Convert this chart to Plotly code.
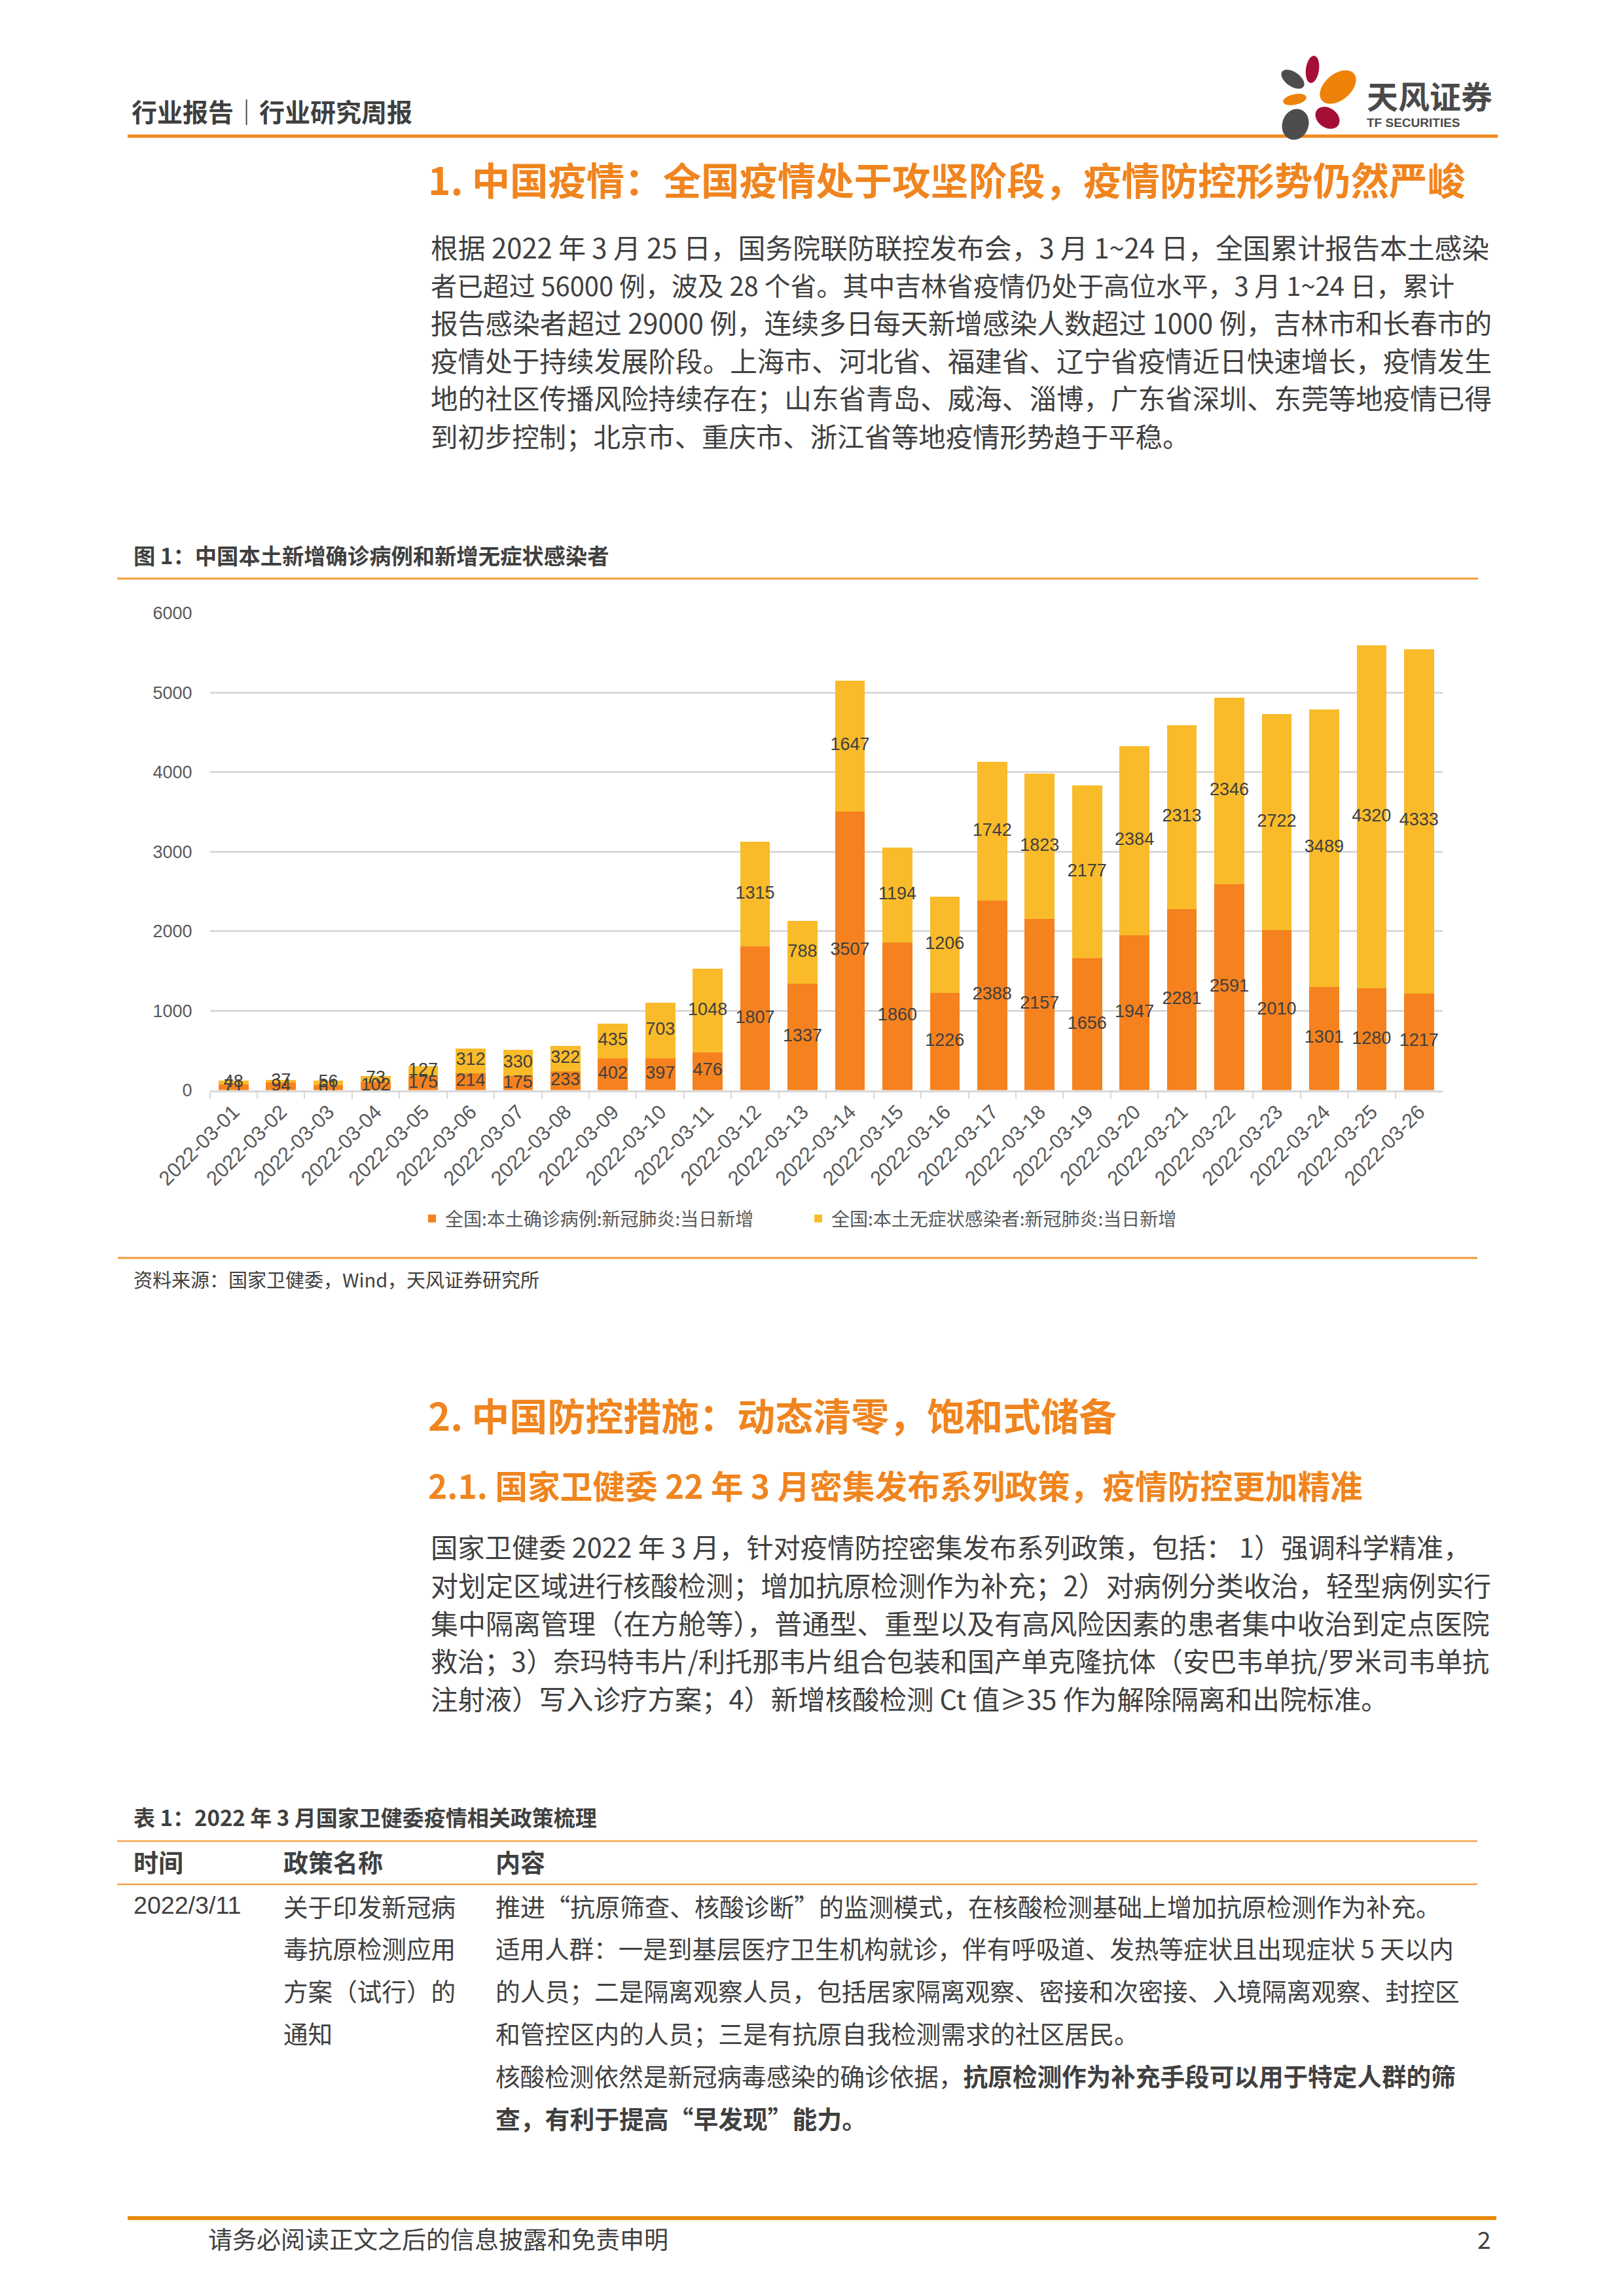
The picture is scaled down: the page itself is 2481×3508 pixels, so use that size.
import math
import plotly.graph_objects as go

# ---------------- data ----------------
dates = ["2022-03-%02d" % d for d in range(1, 27)]
confirmed = [71, 94, 61, 102, 175, 214, 175, 233, 402, 397, 476, 1807, 1337,
             3507, 1860, 1226, 2388, 2157, 1656, 1947, 2281, 2591, 2010, 1301, 1280, 1217]
asymptomatic = [48, 37, 56, 73, 127, 312, 330, 322, 435, 703, 1048, 1315, 788,
                1647, 1194, 1206, 1742, 1823, 2177, 2384, 2313, 2346, 2722, 3489, 4320, 4333]
series_names = ["全国:本土确诊病例:新冠肺炎:当日新增", "全国:本土无症状感染者:新冠肺炎:当日新增"]
y_ticks = [0, 1000, 2000, 3000, 4000, 5000, 6000]

header_text = "行业报告｜行业研究周报"
heading1 = "1. 中国疫情：全国疫情处于攻坚阶段，疫情防控形势仍然严峻"
para1 = [
    "根据 2022 年 3 月 25 日，国务院联防联控发布会，3 月 1~24 日，全国累计报告本土感染",
    "者已超过 56000 例，波及 28 个省。其中吉林省疫情仍处于高位水平，3 月 1~24 日，累计",
    "报告感染者超过 29000 例，连续多日每天新增感染人数超过 1000 例，吉林市和长春市的",
    "疫情处于持续发展阶段。上海市、河北省、福建省、辽宁省疫情近日快速增长，疫情发生",
    "地的社区传播风险持续存在；山东省青岛、威海、淄博，广东省深圳、东莞等地疫情已得",
    "到初步控制；北京市、重庆市、浙江省等地疫情形势趋于平稳。",
]
para1_fit = [1.020, 0.973, 1.017, 1.014, 1.014, 1.010]
chart_title = "图 1：中国本土新增确诊病例和新增无症状感染者"
source_text = "资料来源：国家卫健委，Wind，天风证券研究所"
heading2 = "2. 中国防控措施：动态清零，饱和式储备"
heading21 = "2.1. 国家卫健委 22 年 3 月密集发布系列政策，疫情防控更加精准"
para2 = [
    "国家卫健委 2022 年 3 月，针对疫情防控密集发布系列政策，包括： 1）强调科学精准，",
    "对划定区域进行核酸检测；增加抗原检测作为补充；2）对病例分类收治，轻型病例实行",
    "集中隔离管理（在方舱等），普通型、重型以及有高风险因素的患者集中收治到定点医院",
    "救治；3）奈玛特韦片/利托那韦片组合包装和国产单克隆抗体（安巴韦单抗/罗米司韦单抗",
    "注射液）写入诊疗方案；4）新增核酸检测 Ct 值≥35 作为解除隔离和出院标准。",
]
para2_fit = [1.008, 1.025, 1.025, 1.003, 1.010]
table_title = "表 1：2022 年 3 月国家卫健委疫情相关政策梳理"
table_header = ["时间", "政策名称", "内容"]
table_time = ["2022/3/11"]
table_policy = ["关于印发新冠病", "毒抗原检测应用", "方案（试行）的", "通知"]
table_content = [
    "推进“抗原筛查、核酸诊断”的监测模式，在核酸检测基础上增加抗原检测作为补充。",
    "适用人群：一是到基层医疗卫生机构就诊，伴有呼吸道、发热等症状且出现症状 5 天以内",
    "的人员；二是隔离观察人员，包括居家隔离观察、密接和次密接、入境隔离观察、封控区",
    "和管控区内的人员；三是有抗原自我检测需求的社区居民。",
    "核酸检测依然是新冠病毒感染的确诊依据，<b>抗原检测作为补充手段可以用于特定人群的筛</b>",
    "<b>查，有利于提高“早发现”能力。</b>",
]
table_fit = [1.0, 0.988, 0.994, 0.995, 0.99, 0.995]
footer_text = "请务必阅读正文之后的信息披露和免责申明"
page_no = "2"

# ---------------- layout helpers ----------------
W, H = 2481, 3508
OFF = 8  # page body margin of the browser
def xp(px):
    return (px - OFF) / W
def yp(py):
    return 1 - (py - OFF) / H

CJK = "Noto Sans CJK SC"
LAT = "Liberation Sans, Noto Sans CJK SC"
TXT = "#404040"
ORANGE = "#F0841E"
C_CONF = "#F5821F"
C_ASYM = "#F9BB2A"

fig = go.Figure()

fig.add_bar(x=dates, y=confirmed, name=series_names[0], marker_color=C_CONF,
            marker_line_width=0, hoverinfo="skip")
fig.add_bar(x=dates, y=asymptomatic, name=series_names[1], marker_color=C_ASYM,
            marker_line_width=0, hoverinfo="skip")

# data labels, centred in each stacked segment, drawn above all bars
conf_mid = [c / 2 for c in confirmed]
asym_mid = [c + a / 2 for c, a in zip(confirmed, asymptomatic)]
for mids, vals in ((conf_mid, confirmed), (asym_mid, asymptomatic)):
    fig.add_scatter(x=dates, y=mids, mode="text", text=[str(v) for v in vals],
                    textposition="middle center", showlegend=False, hoverinfo="skip",
                    cliponaxis=False,
                    textfont=dict(size=27, color=TXT, family=LAT))

annotations = []
DY = -3
def add_text(x, y, text, size, color=TXT, family=CJK, xanchor="left", bold=False):
    if bold:
        text = "<b>" + text + "</b>"
    annotations.append(dict(x=xp(x), y=yp(y + DY), xref="paper", yref="paper",
                            xanchor=xanchor, yanchor="middle", showarrow=False,
                            text=text, font=dict(size=size, color=color, family=family)))

add_text(199, 172, header_text, 39, color="#3F3F3F", bold=True)
add_text(2086, 148, "天风证券", 48, color="#4A4A4A", bold=True)
add_text(2086, 191, "TF SECURITIES", 19, color="#4A4A4A", family="Liberation Sans", bold=True)
add_text(652, 275, heading1, 58.4, color=ORANGE, bold=True)
for i, line in enumerate(para1):
    add_text(656, 380 + 57.6 * i, line, 41 * para1_fit[i])
add_text(202, 850, chart_title, 33.3, bold=True)
add_text(202, 1957, source_text, 29)
add_text(652, 2164, heading2, 58.0, color=ORANGE, bold=True)
add_text(652, 2271, heading21, 49.7, color=ORANGE, bold=True)
for i, line in enumerate(para2):
    add_text(656, 2365 + 58 * i, line, 41 * para2_fit[i])
add_text(202, 2779, table_title, 33, bold=True)
for x, t in zip([202, 431, 755], table_header):
    add_text(x, 2846, t, 38, bold=True)
for i, t in enumerate(table_time):
    add_text(202, 2914 + 64.8 * i, t, 37.6, family=LAT)
for i, t in enumerate(table_policy):
    add_text(431, 2914 + 64.8 * i, t, 37.6)
for i, t in enumerate(table_content):
    add_text(755, 2914 + 64.8 * i, t, 38 * table_fit[i])
add_text(316, 3423, footer_text, 37)
add_text(2267, 3423, page_no, 37, xanchor="center")

shapes = []
def hline(y, x0, x1, width, color):
    shapes.append(dict(type="line", xref="paper", yref="paper", x0=xp(x0), x1=xp(x1),
                       y0=yp(y), y1=yp(y), line=dict(color=color, width=width)))

hline(208, 195, 2288, 5, "#F08A1E")
hline(884, 179, 2258, 3, "#F39A3A")
hline(1922, 180, 2257, 3, "#F39A3A")
hline(2813, 179, 2257, 2.5, "#F4A24C")
hline(2879, 179, 2257, 2.5, "#F4A24C")
hline(3389, 195, 2286, 6, "#E88A0A")

# logo petals (decoration)
def petal(cx, cy, rx, ry, ang, color):
    pts = []
    a = math.radians(ang)
    for k in range(36):
        t = 2 * math.pi * k / 36
        ex, ey = rx * math.cos(t), ry * math.sin(t)
        px = cx + ex * math.cos(a) - ey * math.sin(a)
        py = cy + ex * math.sin(a) + ey * math.cos(a)
        pts.append((xp(px), yp(py)))
    path = "M " + " L ".join("%.6f,%.6f" % p for p in pts) + " Z"
    shapes.append(dict(type="path", xref="paper", yref="paper", path=path,
                       fillcolor=color, line=dict(width=0), layer="above"))

petal(2005, 106, 10, 21, 8, "#A50F36")
petal(1975, 121, 20, 11, 35, "#4D4D4D")
petal(2044, 133, 32, 20, -40, "#EE8208")
petal(1978, 152, 18, 8, -12, "#EE8208")
petal(1979, 190, 20, 24, 20, "#4D4D4D")
petal(2028, 180, 20, 15, 35, "#A50F36")

fig.update_layout(
    width=W, height=H,
    margin=dict(l=0, r=0, t=0, b=0, autoexpand=False),
    paper_bgcolor="white", plot_bgcolor="white",
    barmode="stack", bargap=0.37,
    font=dict(family=LAT, color="#595959"),
    annotations=annotations,
    shapes=shapes,
    showlegend=True,
    legend=dict(orientation="h", x=xp(1230), xanchor="center", y=yp(1862), yanchor="middle",
                font=dict(size=28, color="#595959", family=CJK), bgcolor="rgba(0,0,0,0)",
                traceorder="normal", entrywidth=545, entrywidthmode="pixels"),
    xaxis=dict(type="category", domain=[xp(320.5), xp(2204)], tickangle=-45,
               range=[-0.5, len(dates) - 0.5], autorange=False,
               tickfont=dict(size=31, color="#595959", family=LAT),
               showline=True, linecolor="#D9D9D9", linewidth=3,
               ticks="outside", tickson="boundaries", ticklen=10, tickcolor="#D9D9D9", tickwidth=2,
               showgrid=False, automargin=False),
    yaxis=dict(domain=[yp(1665.5), yp(937)], range=[0, 6000], tickvals=y_ticks,
               tickfont=dict(size=27, color="#595959", family=LAT),
               gridcolor="#D9D9D9", gridwidth=2.5, zeroline=False, showline=False,
               ticks="", ticklabelstandoff=26, automargin=False),
)

fig.write_html("out.html")
